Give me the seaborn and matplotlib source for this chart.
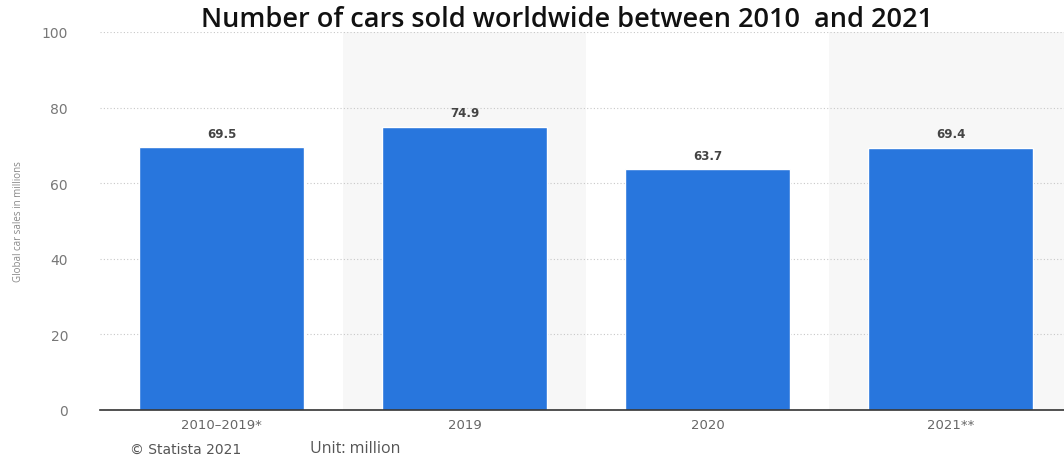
import matplotlib
matplotlib.use("Agg")
import matplotlib.pyplot as plt
import seaborn as sns
import pandas as pd

categories = ["2010–2019*", "2019", "2020", "2021**"]
sales = [69.5, 74.9, 63.7, 69.4]
yticks = [0, 20, 40, 60, 80, 100]

df = pd.DataFrame({"period": categories, "sales": sales})

sns.set_theme(style="white")
plt.rcParams['font.family'] = ['DejaVu Sans']

fig = plt.figure(figsize=(10.64, 4.56), dpi=100)
ax = fig.add_axes([100/1064, 45/456, 972/1064, 378/456])

# alternating shaded bands
for i in range(len(categories)):
    if i % 2 == 1:
        ax.axvspan(i - 0.5, i + 0.5, color="#f7f7f7", zorder=0, lw=0)

sns.barplot(data=df, x="period", y="sales", color="#2876dd", saturation=1,
            width=0.68, ax=ax, zorder=3)

for p, v in zip(ax.containers[0], sales):
    ax.text(p.get_x() + p.get_width() / 2, v + 2.0, f"{v}", ha="center",
            va="bottom", fontsize=8.5, fontweight="bold", color="#444444", zorder=4)

ax.set_xlim(-0.5, len(categories) - 0.5)
ax.set_ylim(0, 100)
ax.set_yticks(yticks)
ax.yaxis.grid(True, linestyle=(0, (1, 2)), color="#c8c8c8", linewidth=0.8, zorder=1)
ax.set_axisbelow(True)
for s in ["top", "right", "left"]:
    ax.spines[s].set_visible(False)
ax.spines["bottom"].set_color("#333333")
ax.spines["bottom"].set_linewidth(1.2)
ax.spines["bottom"].set_zorder(5)

ax.tick_params(axis="y", length=0, pad=23, labelsize=10, labelcolor="#777777")
ax.tick_params(axis="x", length=0, pad=6, labelsize=9.5, labelcolor="#666666")
ax.set_xlabel("")
ax.set_ylabel("")
fig.text(19/1064, 1 - 222/456, "Global car sales in millions", rotation=90,
         ha="center", va="center", fontsize=7, color="#888888",
         family=['Open Sans', 'DejaVu Sans'])

fig.text(567/1064, 1 - 20/456, "Number of cars sold worldwide between 2010  and 2021",
         ha="center", va="center", fontsize=19.5, color="#111111", fontweight="semibold",
         family=['Open Sans', 'DejaVu Sans'])
fig.text(130/1064, 1 - 450/456, "© Statista 2021", ha="left", va="center",
         fontsize=10, color="#555555")
fig.text(310/1064, 1 - 449/456, "Unit: million", ha="left", va="center",
         fontsize=11.5, color="#555555", family=['Open Sans', 'DejaVu Sans'])

fig.savefig("out.png", dpi=100)
